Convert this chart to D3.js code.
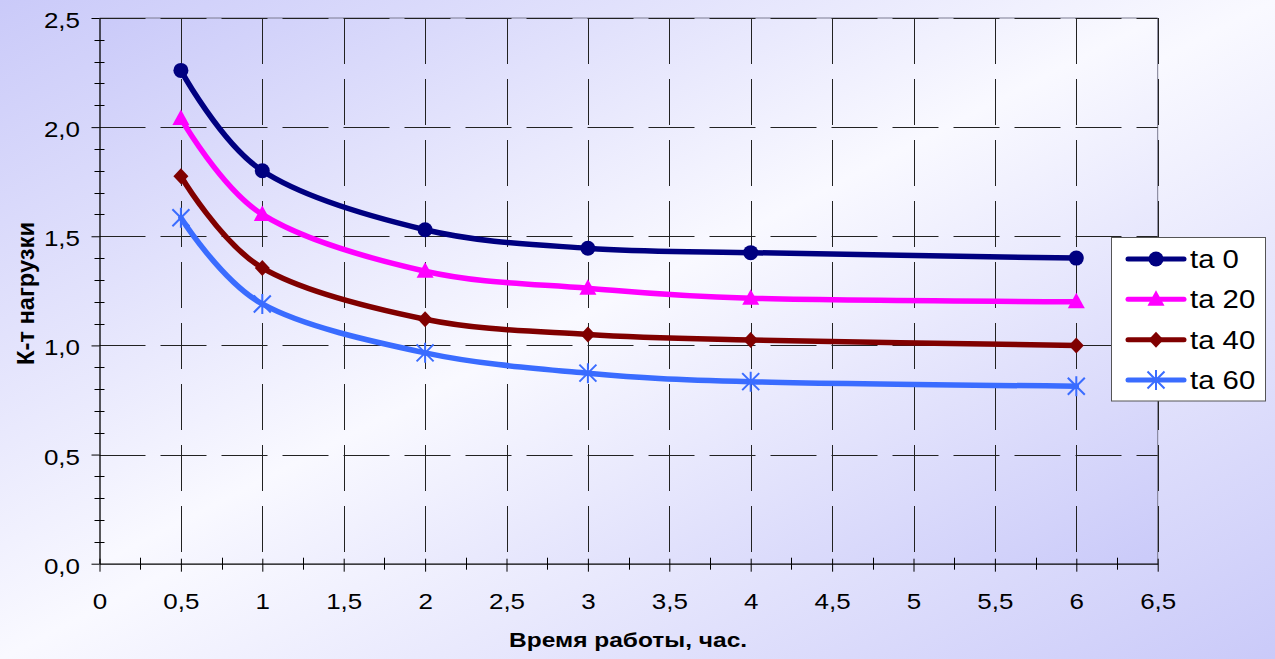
<!DOCTYPE html>
<html>
<head>
<meta charset="utf-8">
<script src="https://cdn.jsdelivr.net/npm/d3@7"></script>
<style>
  html, body { margin: 0; padding: 0; background: #fff; }
  svg { display: block; }
  text { font-family: "Liberation Sans", Arial, sans-serif; fill: #000; }
</style>
</head>
<body>
<script>
// ---------- DATA ----------
const hours = [0.5, 1, 2, 3, 4, 6];
const ta0  = [2.26, 1.80, 1.53, 1.445, 1.425, 1.40];
const ta20 = [2.04, 1.60, 1.34, 1.262, 1.216, 1.20];
const ta40 = [1.775, 1.355, 1.12, 1.05, 1.025, 1.00];
const ta60 = [1.585, 1.19, 0.966, 0.873, 0.834, 0.813];
const seriesNames = ["ta 0", "ta 20", "ta 40", "ta 60"];
const xTickValues = [0, 0.5, 1, 1.5, 2, 2.5, 3, 3.5, 4, 4.5, 5, 5.5, 6, 6.5];
const yTickValues = [0, 0.5, 1.0, 1.5, 2.0, 2.5];
const xTitle = "Время работы, час.";
const yTitle = "К-т нагрузки";

// ---------- STYLE ----------
const W = 1275, H = 659;
const plot = { left: 99.5, right: 1157.7, top: 18, bottom: 563.7 };
const colors = ["#000080", "#ff00ff", "#800000", "#3a6cff"];
const markers = ["circle", "triangle", "diamond", "asterisk"];
const SX = 1.18; // horizontal stretch of text

const locale = d3.formatLocale({ decimal: ",", thousands: " ", grouping: [3], currency: ["", ""] });
const fmtX = v => locale.format("~g")(v);
const fmtY = locale.format(".1f");

const series = [ta0, ta20, ta40, ta60].map((vals, i) => ({
  name: seriesNames[i],
  color: colors[i],
  marker: markers[i],
  points: hours.map((h, j) => ({ x: h, y: vals[j] }))
}));

const svg = d3.select("body").append("svg").attr("width", W).attr("height", H);
const defs = svg.append("defs");
const grad = defs.append("linearGradient").attr("id", "bg")
  .attr("x1", 0).attr("y1", 0).attr("x2", 1).attr("y2", 1);
grad.append("stop").attr("offset", 0).attr("stop-color", "#cacaf9");
grad.append("stop").attr("offset", 0.5).attr("stop-color", "#f9f9ff");
grad.append("stop").attr("offset", 1).attr("stop-color", "#cacaf9");

svg.append("rect").attr("width", W).attr("height", H).attr("fill", "url(#bg)");

const x = d3.scaleLinear().domain([0, 6.5]).range([plot.left, plot.right]);
const y = d3.scaleLinear().domain([0, 2.5]).range([plot.bottom, plot.top]);

// plot area
svg.append("rect")
  .attr("x", plot.left).attr("y", plot.top)
  .attr("width", plot.right - plot.left).attr("height", plot.bottom - plot.top)
  .attr("fill", "url(#bg)");

// border top/right
svg.append("path")
  .attr("d", `M${plot.left},${plot.top}H${plot.right}V${plot.bottom}`)
  .attr("fill", "none").attr("stroke", "#7a7a90").attr("stroke-width", 1);

// gridlines
const grid = svg.append("g").attr("stroke", "#222").attr("stroke-width", 1)
  .attr("stroke-dasharray", "46,15").attr("fill", "none");
grid.selectAll(".vg").data(xTickValues.filter(v => v > 0)).join("line")
  .attr("x1", d => Math.round(x(d)) + 0.5).attr("x2", d => Math.round(x(d)) + 0.5)
  .attr("y1", plot.top).attr("y2", plot.bottom);
grid.selectAll(".hg").data(yTickValues.filter(v => v > 0)).join("line")
  .attr("y1", d => Math.round(y(d)) + 0.5).attr("y2", d => Math.round(y(d)) + 0.5)
  .attr("x1", plot.left).attr("x2", plot.right);

// minor ticks
const minorX = d3.range(0.25, 6.5, 0.5);
const minorY = d3.range(1, 25).map(i => i / 10).filter(v => Math.abs(v * 2 - Math.round(v * 2)) > 1e-6);
svg.append("g").attr("stroke", "#000").selectAll("line").data(minorX).join("line")
  .attr("x1", d => Math.round(x(d)) + 0.5).attr("x2", d => Math.round(x(d)) + 0.5)
  .attr("y1", plot.bottom - 6).attr("y2", plot.bottom + 6);
svg.append("g").attr("stroke", "#000").selectAll("line").data(minorY).join("line")
  .attr("y1", d => Math.round(y(d)) + 0.5).attr("y2", d => Math.round(y(d)) + 0.5)
  .attr("x1", plot.left - 5).attr("x2", plot.left + 5);

// axes
const xAxis = svg.append("g").attr("transform", `translate(0,${plot.bottom})`)
  .call(d3.axisBottom(x).tickValues(xTickValues).tickFormat(fmtX).tickSizeInner(8).tickSizeOuter(0));
xAxis.select(".domain").attr("stroke", "#000").attr("stroke-width", 1.3);
xAxis.selectAll(".tick line").attr("y1", -5).attr("y2", 8).attr("stroke", "#000");
xAxis.selectAll(".tick text")
  .attr("font-size", 22).attr("font-family", "Liberation Sans, Arial, sans-serif")
  .attr("y", 0).attr("dy", 0)
  .attr("transform", `translate(0,45.5) scale(${SX},1)`);

const yAxis = svg.append("g").attr("transform", `translate(${plot.left},0)`)
  .call(d3.axisLeft(y).tickValues(yTickValues).tickFormat(fmtY).tickSizeInner(8).tickSizeOuter(0));
yAxis.select(".domain").attr("stroke", "#000").attr("stroke-width", 1.3);
yAxis.selectAll(".tick line").attr("stroke", "#000");
yAxis.selectAll(".tick text")
  .attr("font-size", 22).attr("font-family", "Liberation Sans, Arial, sans-serif")
  .attr("x", 0).attr("dy", 0).attr("y", 0)
  .attr("text-anchor", "end")
  .attr("transform", `translate(-19.5,9.5) scale(${SX},1)`);

// axis titles
svg.append("text")
  .attr("transform", `translate(${(x(2.5)+x(4))/2 - 0.5},647)`)
  .attr("text-anchor", "middle").attr("font-weight", "bold").attr("font-size", 20)
  .attr("textLength", 238).attr("lengthAdjust", "spacingAndGlyphs")
  .text(xTitle);
svg.append("text")
  .attr("transform", `translate(33.5,293.5) rotate(-90) scale(1,1.15)`)
  .attr("text-anchor", "middle").attr("font-weight", "bold").attr("font-size", 20)
  .attr("textLength", 143).attr("lengthAdjust", "spacingAndGlyphs")
  .text(yTitle);

// lines
const line = d3.line().x(d => x(d.x)).y(d => y(d.y)).curve(d3.curveCatmullRom.alpha(0));
svg.append("g").selectAll("path").data(series).join("path")
  .attr("d", d => line(d.points))
  .attr("fill", "none").attr("stroke", d => d.color)
  .attr("stroke-width", 5.5).attr("stroke-linejoin", "round").attr("stroke-linecap", "round");

function drawMarker(g, type, color, cx, cy) {
  if (type === "circle") {
    g.append("circle").attr("cx", cx).attr("cy", cy).attr("r", 7.5).attr("fill", color);
  } else if (type === "triangle") {
    g.append("path").attr("d", `M${cx},${cy-9}L${cx+8.5},${cy+6.5}L${cx-8.5},${cy+6.5}Z`).attr("fill", color);
  } else if (type === "diamond") {
    g.append("path").attr("d", `M${cx},${cy-8}L${cx+7.5},${cy}L${cx},${cy+8}L${cx-7.5},${cy}Z`).attr("fill", color);
  } else {
    const r = 10;
    g.append("path")
      .attr("d", `M${cx},${cy-r}V${cy+r}M${cx-r*0.85},${cy-r*0.85}L${cx+r*0.85},${cy+r*0.85}M${cx+r*0.85},${cy-r*0.85}L${cx-r*0.85},${cy+r*0.85}`)
      .attr("stroke", color).attr("stroke-width", 2).attr("fill", "none");
  }
}

const mg = svg.append("g");
series.forEach(s => s.points.forEach(p => drawMarker(mg, s.marker, s.color, x(p.x), y(p.y))));

// legend
const lg = svg.append("g");
lg.append("rect").attr("x", 1111.5).attr("y", 237.5).attr("width", 154).attr("height", 163.5)
  .attr("fill", "#fff").attr("stroke", "#555").attr("stroke-width", 1);
const rowY = d3.scalePoint().domain(seriesNames).range([259, 380]);
series.forEach(s => {
  const ry = rowY(s.name);
  lg.append("line").attr("x1", 1128).attr("x2", 1184).attr("y1", ry).attr("y2", ry)
    .attr("stroke", s.color).attr("stroke-width", 5).attr("stroke-linecap", "round");
  drawMarker(lg, s.marker, s.color, 1156, ry);
  lg.append("text").attr("transform", `translate(1190,${ry + 9}) scale(1.15,1)`)
    .attr("font-size", 25.5).text(s.name);
});
</script>
</body>
</html>
